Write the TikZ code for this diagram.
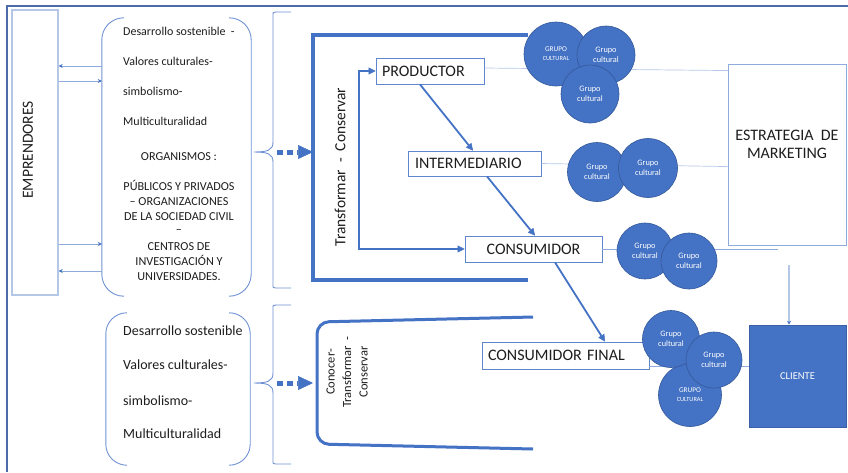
\documentclass[tikz,border=0pt]{standalone}
\usepackage{fontspec}
\setmainfont{Carlito}
\usetikzlibrary{arrows.meta,calc}
\definecolor{mblue}{HTML}{4472C4}
\definecolor{lblue}{HTML}{8FAADC}
\definecolor{bblue}{HTML}{7092D4}
\definecolor{embox}{HTML}{B4C7E7}
\definecolor{frameblue}{HTML}{4D6BA8}
\definecolor{cborder}{HTML}{35599A}
\definecolor{ink}{HTML}{1E1E1E}
\begin{document}
\begin{tikzpicture}[x=1pt,y=-1pt,
 every node/.style={inner sep=0pt, text=ink},
 flowbox/.style={draw=mblue!85, line width=0.8pt, fill=white, font=\fontsize{16}{19}\selectfont},
 gc/.style={circle, fill=mblue, draw=cborder, line width=0.6pt, text=white, align=center, font=\fontsize{8.3}{10}\selectfont},
 gcc/.style={gc, font=\fontsize{6.3}{9}\selectfont},
 brk/.style={draw=bblue, line width=0.9pt},
 thickline/.style={draw=mblue, line width=3.5pt},
 dotarrow/.style={draw=mblue, line width=5pt, dash pattern=on 6pt off 4pt, -{Triangle[length=15pt,width=14pt,line width=0.5pt]}},
 flowarrow/.style={draw=mblue, line width=1.8pt, -{Triangle[length=7pt,width=7pt,line width=0.5pt]}},
 thinarrow/.style={draw=lblue, line width=0.9pt, -{Stealth[length=4pt,width=4pt,color=mblue]}},
 dotline/.style={draw=lblue, line width=0.7pt, dash pattern=on 1.2pt off 0.8pt},
 ltxt/.style={anchor=mid west, font=\fontsize{12}{14}\selectfont},
 ctxt/.style={anchor=mid, font=\fontsize{12.2}{14}\selectfont},
 btxt/.style={anchor=mid west, font=\fontsize{14}{16}\selectfont},
]
\useasboundingbox (0,0) rectangle (848,472);
\fill[white] (0,0) rectangle (848,472);

% outer frame
\draw[frameblue, line width=1.2pt] (7,472) -- (7,6) -- (848,6);

% EMPRENDORES
\node[draw=embox, line width=1.4pt, minimum width=46pt, minimum height=285pt] (emp) at (35,152.5) {};
\node[rotate=90, font=\fontsize{15.5}{18}\selectfont] (emptxt) at (28,150) {EMPRENDORES};

% upper bracket box
\node[minimum width=149pt, minimum height=278pt] (ub) at (176.5,157) {};
\draw[brk, rounded corners=22pt] ([xshift=22pt]ub.north west) -- (ub.north west) -- (ub.south west) -- ([xshift=22pt]ub.south west);
\draw[brk, rounded corners=22pt] ([xshift=-22pt]ub.north east) -- (ub.north east) -- (ub.south east) -- ([xshift=-22pt]ub.south east);

\node[ltxt] (u1) at (123,33) {Desarrollo sostenible\ \ -};
\node[ltxt] (u2) at (123,63) {Valores culturales-};
\node[ltxt] (u3) at (123,93) {simbolismo-};
\node[ltxt] (u4) at (123,123) {Multiculturalidad};
\node[ctxt] (o1) at (179,158) {ORGANISMOS :};
\node[ctxt] (o2) at (179,188) {PÚBLICOS Y PRIVADOS};
\node[ctxt] (o3) at (179,203) {– ORGANIZACIONES};
\node[ctxt] (o4) at (179,218) {DE LA SOCIEDAD CIVIL};
\node[ctxt] (o5) at (179,231) {–};
\node[ctxt] (o6) at (179,248) {CENTROS DE};
\node[ctxt] (o7) at (179,263) {INVESTIGACIÓN Y};
\node[ctxt] (o8) at (179,278) {UNIVERSIDADES.};

% arrows emp <-> ub
\coordinate (y66) at (0,66);
\coordinate (y81) at (0,81);
\coordinate (y244) at (0,244);
\coordinate (y271) at (0,271);
\draw[thinarrow] (ub.west |- y66) -- (emp.east |- y66);
\draw[thinarrow] (emp.east |- y81) -- (ub.west |- y81);
\draw[thinarrow] (emp.east |- y244) -- (ub.west |- y244);
\draw[thinarrow] (ub.west |- y271) -- (emp.east |- y271);

% upper brace
\coordinate (b1tip) at (254,152);
\draw[brk] (291,12) -- (276,12) .. controls (273,12) .. (273,16) -- (273,142)
  .. controls (273,150) and (268,152) .. (b1tip)
  .. controls (268,152) and (273,154) .. (273,162) -- (273,284)
  .. controls (273,288) .. (276,288) -- (291,288);

% upper thick frame
\draw[thickline] (528,35) -- (313,35) -- (313,280) -- (528,280);
\coordinate (a1s) at (277,152);
\coordinate (a1e) at (313,152);
\draw[dotarrow] (a1s) -- (a1e);
\node[rotate=90, font=\fontsize{15.5}{18}\selectfont] (tctxt) at (340,167) {Transformar\ \ -\ \ Conservar};

% flow boxes
\node[flowbox, minimum width=108pt, minimum height=26pt, text width=96pt, align=left] (prod) at (430,71) {PRODUCTOR};
\node[flowbox, minimum width=133pt, minimum height=25pt, text width=119pt, align=left] (inter) at (474.5,163.5) {INTERMEDIARIO};
\node[flowbox, minimum width=137pt, minimum height=26pt] (cons) at (533.5,249) {CONSUMIDOR};
\node[flowbox, minimum width=167pt, minimum height=27pt, text width=155pt, align=left] (final) at (565.5,355.5) {CONSUMIDOR FINAL};

% estrategia & cliente
\node[draw=lblue, line width=0.9pt, minimum width=118pt, minimum height=181pt] (estr) at (787,154.5) {};
\node[font=\fontsize{16}{18}\selectfont, align=center] (estrtxt) at (787,144) {ESTRATEGIA\ \ DE\\MARKETING};
\node[fill=mblue, draw=mblue!85!black, line width=0.6pt, minimum width=97pt, minimum height=102pt, text=white, font=\fontsize{10.5}{12}\selectfont] (clie) at (797.5,376) {CLIENTE};

% dotted connectors
\coordinate (c3end) at (778,249);
\draw[dotline] ($(prod.east)+(0,-3)$) -- ($(estr.north west)+(0,7)$);
\draw[dotline] (inter.east) -- ($(estr.north west)+(0,103)$);
\draw[dotline] (cons.east) -- (c3end);
\draw[dotline] ($(final.south east)+(0,-3)$) -- (clie.west |- {$(final.south east)+(0,-3)$});

% estr -> cliente
\coordinate (ea) at (789,265);
\draw[thinarrow, draw=embox, line width=1.4pt] (ea) -- (ea |- clie.north);

% loop arrow
\coordinate (loopx) at (359,0);
\draw[draw=mblue, line width=1.8pt, {Triangle[length=7pt,width=7pt,line width=0.5pt]}-{Triangle[length=7pt,width=7pt,line width=0.5pt]}]
  (prod.west) -- (prod.west -| loopx) -- (cons.west -| loopx) -- (cons.west);

% flow arrows
\draw[flowarrow] ([xshift=-10pt]prod.south) -- ([xshift=-1.5pt]inter.north);
\draw[flowarrow] ([xshift=12.5pt]inter.south) -- ([xshift=1.5pt]cons.north);
\draw[flowarrow] ([xshift=21.5pt]cons.south) -- ([xshift=39.5pt]final.north);

% circles group 1
\node[gcc, minimum size=64pt] (g1a) at (556,54) {{\fontsize{7.3}{9}\selectfont GRUPO}\\CULTURAL};
\node[gc, minimum size=58pt] (g1b) at (606,55) {Grupo\\cultural};
\node[gc, minimum size=58pt] (g1c) at (590,94) {Grupo\\cultural};
% group 2
\node[gc, minimum size=59pt] (g2a) at (597,172) {Grupo\\cultural};
\node[gc, minimum size=59pt] (g2b) at (648,168) {Grupo\\cultural};
% group 3
\node[gc, minimum size=56pt] (g3a) at (645,251) {Grupo\\cultural};
\node[gc, minimum size=56pt] (g3b) at (689,261) {Grupo\\cultural};
% group 4
\node[gcc, minimum size=63pt] (g4c) at (690,395) {{\fontsize{7.3}{9}\selectfont GRUPO}\\CULTURAL};
\node[gc, minimum size=57pt] (g4a) at (671,339) {Grupo\\cultural};
\node[gc, minimum size=56pt] (g4b) at (714,360) {Grupo\\cultural};

% lower bracket box
\node[minimum width=144pt, minimum height=152pt] (lb) at (178,389) {};
\draw[brk, rounded corners=21pt] ([xshift=21pt]lb.north west) -- (lb.north west) -- (lb.south west) -- ([xshift=21pt]lb.south west);
\draw[brk, rounded corners=21pt] ([xshift=-21pt]lb.north east) -- (lb.north east) -- (lb.south east) -- ([xshift=-21pt]lb.south east);
\node[btxt] (l1) at (123,333) {Desarrollo sostenible};
\node[btxt] (l2) at (123,367) {Valores culturales-};
\node[btxt] (l3) at (123,403) {simbolismo-};
\node[btxt] (l4) at (123,436) {Multiculturalidad};

% lower brace
\coordinate (b2tip) at (254,383);
\draw[brk] (291,305) -- (276,305) .. controls (273,305) .. (273,309) -- (273,373)
  .. controls (273,381) and (268,383) .. (b2tip)
  .. controls (268,383) and (273,385) .. (273,393) -- (273,460)
  .. controls (273,464) .. (276,464) -- (291,464);

% lower thick bracket
\draw[thickline, line width=3pt, rounded corners=12pt] (533,317) -- (317,322) -- (317,444) -- (533,449);
\coordinate (a2s) at (277,383);
\coordinate (a2e) at (313,383);
\draw[dotarrow] (a2s) -- (a2e);
\node[rotate=90, align=center, font=\fontsize{12.5}{16.5}\selectfont] (ctctxt) at (347,372) {Conocer-\\Transformar\ \ -\\Conservar};
\end{tikzpicture}
\end{document}
